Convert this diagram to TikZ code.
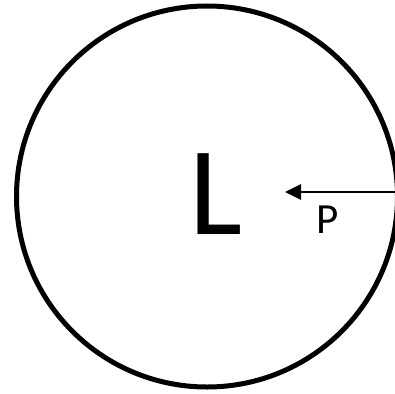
\documentclass[tikz,border=0pt]{standalone}
\usepackage{fontspec}
\setmainfont{Carlito}
\usepackage{tikz}
\usetikzlibrary{arrows.meta,positioning}
\tikzset{
  ring/.style={draw=black, line width=5pt},
  force/.style={line width=2.8pt, -{Triangle[length=16pt,width=15pt]}},
  biglabel/.style={inner sep=0pt, anchor=base, font=\fontsize{126}{126}\selectfont},
  smalllabel/.style={inner sep=0pt, anchor=base west, font=\fontsize{43}{43}\selectfont}
}

\begin{document}
\begin{tikzpicture}[x=1pt,y=-1pt, line cap=butt, line join=miter]
\useasboundingbox (0,0) rectangle (395,393);

% Circle
\coordinate (centre) at (207,196.5);
\draw[ring] (centre) circle (190.5);

% Labels
\node[biglabel] (lbl) at (216,234) {L};
\node[smalllabel] (plbl) at (316,233) {P};

% Force arrow
\coordinate (ptail) at (398,192);
\coordinate (ptip) at (285,192);
\draw[force] (ptail) -- (ptip);
\end{tikzpicture}
\end{document}
